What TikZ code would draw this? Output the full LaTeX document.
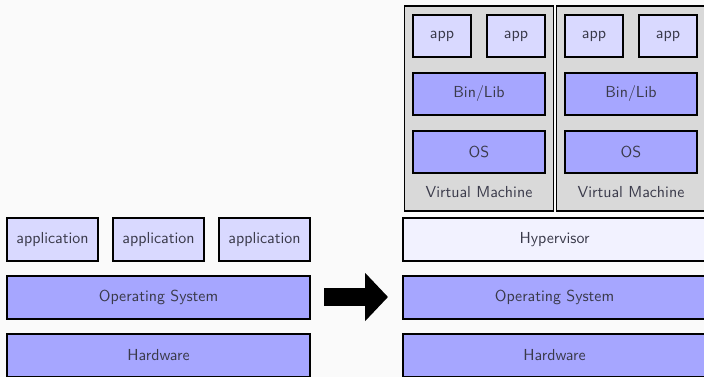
\documentclass[tikz,border=0pt]{standalone}
\usepackage{tikz}
\usetikzlibrary{arrows.meta}
\newlength\pxu
\setlength\pxu{0.628pt}
\definecolor{slidebg}{RGB}{250,250,250}
\definecolor{txtgray}{RGB}{58,58,74}
\tikzset{
  layer/.style={draw=black,line width=1.1pt,fill=blue!35,text=txtgray,font=\sffamily,minimum height=43\pxu,inner sep=0pt},
  appbox/.style={layer,fill=blue!15},
  vmbox/.style={draw=black,line width=0.8pt,fill=gray!30,minimum width=149\pxu,minimum height=205\pxu,inner sep=0pt},
}
\begin{document}
\begin{tikzpicture}[x=\pxu,y=-\pxu]
  \fill[slidebg] (0,0) rectangle (704,377);
  \useasboundingbox (0,0) rectangle (704,377);
  % bare machine
  \node[appbox,minimum width=91\pxu](app1)at(52.5,239.5){application};
  \node[appbox,minimum width=91\pxu](app2)at(158.5,239.5){application};
  \node[appbox,minimum width=91\pxu](app3)at(264.5,239.5){application};
  \node[layer,minimum width=303\pxu](osl)at(158.5,297.5){Operating System};
  \node[layer,minimum width=303\pxu](hwl)at(158.5,355.5){Hardware};
  % arrow
  \coordinate (arrs) at (324,297);
  \coordinate (arre) at (388,297);
  \draw[line width=11.3pt,-{Triangle[length=14.4pt,width=29.5pt]}] (arrs) -- (arre);
  % virtualised machine
  \node[vmbox](vm1)at(479,108.5){};
  \node[vmbox](vm2)at(631,108.5){};
  \node[appbox,minimum width=58\pxu,minimum height=42\pxu](va1)at(442,36){app};
  \node[appbox,minimum width=58\pxu,minimum height=42\pxu](vb1)at(516,36){app};
  \node[layer,minimum width=132\pxu,minimum height=42\pxu](bin1)at(479,94){Bin/Lib};
  \node[layer,minimum width=132\pxu,minimum height=42\pxu](vos1)at(479,152){OS};
  \node[text=txtgray,font=\sffamily](lab1)at(479,192){Virtual Machine};
  \node[appbox,minimum width=58\pxu,minimum height=42\pxu](va2)at(594,36){app};
  \node[appbox,minimum width=58\pxu,minimum height=42\pxu](vb2)at(668,36){app};
  \node[layer,minimum width=132\pxu,minimum height=42\pxu](bin2)at(631,94){Bin/Lib};
  \node[layer,minimum width=132\pxu,minimum height=42\pxu](vos2)at(631,152){OS};
  \node[text=txtgray,font=\sffamily](lab2)at(631,192){Virtual Machine};
  \node[layer,fill=blue!5,minimum width=303\pxu](hyp)at(554.5,239.5){Hypervisor};
  \node[layer,minimum width=303\pxu](osr)at(554.5,297.5){Operating System};
  \node[layer,minimum width=303\pxu](hwr)at(554.5,355.5){Hardware};
\end{tikzpicture}
\end{document}
